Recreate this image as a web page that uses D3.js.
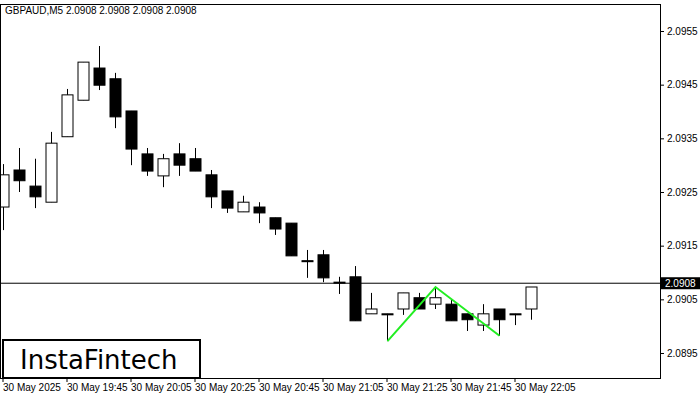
<!DOCTYPE html>
<html><head><meta charset="utf-8">
<script src="https://cdn.jsdelivr.net/npm/d3@7"></script>
<style>body{margin:0;background:#fff}svg{display:block;font-family:"Liberation Sans",Arial,sans-serif}</style>
</head><body><svg id="chart" width="700" height="400"></svg>
<script>
// candles, 5 min, starting 30 May 19:25
const opens  = [2.09222,2.09291,2.09261,2.09231,2.09353,2.09421,2.09481,2.09461,2.09401,2.09321,2.09280,2.09321,2.09312,2.09282,2.09252,2.09213,2.09222,2.09202,2.09192,2.09122,2.09133,2.09082,2.09092,2.09023,2.09023,2.09032,2.09053,2.09041,2.09041,2.09023,2.09002,2.09032,2.09023,2.09032];
const highs  = [2.09302,2.09332,2.09312,2.09362,2.09442,2.09492,2.09522,2.09472,2.09401,2.09332,2.09321,2.09341,2.09332,2.09291,2.09252,2.09243,2.09231,2.09202,2.09192,2.09142,2.09142,2.09092,2.09112,2.09062,2.09023,2.09062,2.09062,2.09071,2.09049,2.09023,2.09041,2.09032,2.09023,2.09073];
const lows   = [2.09179,2.09250,2.09220,2.09231,2.09353,2.09421,2.09440,2.09369,2.09300,2.09280,2.09259,2.09280,2.09289,2.09220,2.09211,2.09213,2.09192,2.09170,2.09131,2.09090,2.09082,2.09060,2.09010,2.09023,2.08972,2.09021,2.09032,2.09032,2.09010,2.08991,2.08991,2.08982,2.09002,2.09012];
const closes = [2.09282,2.09271,2.09241,2.09341,2.09431,2.09492,2.09449,2.09390,2.09330,2.09289,2.09312,2.09300,2.09289,2.09241,2.09220,2.09231,2.09211,2.09181,2.09131,2.09122,2.09090,2.09082,2.09010,2.09032,2.09023,2.09062,2.09032,2.09053,2.09010,2.09012,2.09023,2.09012,2.09023,2.09073];
const timeLabels = ["30 May 2025","30 May 19:45","30 May 20:05","30 May 20:25","30 May 20:45","30 May 21:05","30 May 21:25","30 May 21:45","30 May 22:05"];
const priceTicks = [2.0955,2.0945,2.0935,2.0925,2.0915,2.0905,2.0895];
const lastPrice = 2.0908;
// double bottom pattern: candle index / price
const patternIdx = [24,27,31];
const patternPrice = [2.08972,2.09073,2.08982];

const svg = d3.select('#chart');
const W = 660, plotTop = 4, plotBottom = 378;

const x = d3.scaleLinear().domain([0,1]).range([3,19]);
const y = d3.scaleLinear().domain([2.0895,2.0955]).range([353,31]);

svg.append('text').attr('x',5).attr('y',14).attr('font-size',10)
    .text('GBPAUD,M5  2.0908 2.0908 2.0908 2.0908');

// right price axis
const yAxis = d3.axisRight(y).tickValues(priceTicks).tickSize(4).tickFormat(d3.format('.4f'));
const yg = svg.append('g').attr('transform',`translate(${W},0)`).call(yAxis);
yg.select('.domain').remove();
yg.selectAll('text').attr('font-size',10).attr('font-family','"Liberation Sans",Arial,sans-serif').attr('x',7);

// time labels every 4 candles
svg.append('g').selectAll('text').data(timeLabels).join('text')
    .attr('x',(d,i)=>x(i*4)).attr('y',391).attr('font-size',10).text(d=>d);
svg.append('g').selectAll('line').data(timeLabels).join('line')
    .attr('x1',(d,i)=>x(i*4)).attr('x2',(d,i)=>x(i*4)).attr('y1',plotBottom).attr('y2',plotBottom+4).attr('stroke','#000');

// last price line
svg.append('line').attr('x1',0).attr('x2',W).attr('y1',y(lastPrice)).attr('y2',y(lastPrice)).attr('stroke','#000');
svg.append('rect').attr('x',W+1).attr('y',y(lastPrice)-6).attr('width',39).attr('height',12).attr('fill','#000');
svg.append('text').attr('x',W+5).attr('y',y(lastPrice)+4).attr('font-size',10).attr('fill','#fff').text(lastPrice.toFixed(4));

// candles
const idx = d3.range(opens.length);
const g = svg.append('g');
g.selectAll('line.wick').data(idx).join('line').attr('class','wick')
    .attr('x1',i=>x(i)+0.5).attr('x2',i=>x(i)+0.5)
    .attr('y1',i=>y(highs[i])).attr('y2',i=>y(lows[i])).attr('stroke','#000');
g.selectAll('rect.body').data(idx).join('rect').attr('class','body')
    .attr('x',i=>x(i)-5).attr('width',11)
    .attr('y',i=>y(Math.max(opens[i],closes[i])))
    .attr('height',i=>Math.max(1,Math.abs(y(opens[i])-y(closes[i]))))
    .attr('fill',i=>closes[i]>opens[i]?'#fff':'#000')
    .attr('stroke','#000');

// pattern line
svg.append('path')
    .datum(patternIdx.map((d,i)=>[x(d)+0.5,y(patternPrice[i])]))
    .attr('d',d3.line()).attr('fill','none').attr('stroke','#22ee22').attr('stroke-width',2);

// frame
svg.append('rect').attr('x',0.5).attr('y',plotTop+0.5).attr('width',W).attr('height',plotBottom-plotTop).attr('fill','none').attr('stroke','#000');

// logo
svg.append('rect').attr('x',3).attr('y',340).attr('width',197).attr('height',38).attr('fill','#fff').attr('stroke','#000').attr('stroke-width',2);
svg.append('text').attr('x',20).attr('y',369).attr('font-size',26).attr('font-family','"DejaVu Sans",sans-serif').text('InstaFintech');
</script></body></html>
